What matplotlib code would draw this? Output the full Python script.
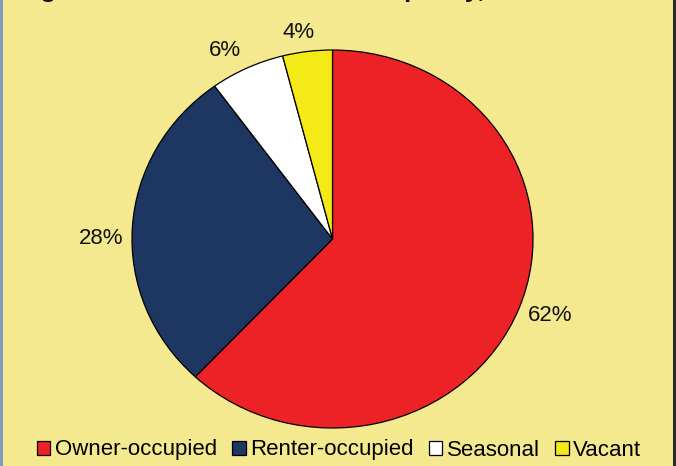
import matplotlib
matplotlib.use("Agg")
import matplotlib.pyplot as plt
from matplotlib.patches import Rectangle
from matplotlib.transforms import offset_copy

plt.rcParams['font.family'] = ['Liberation Sans', 'DejaVu Sans']

# data
categories = ["Owner-occupied", "Renter-occupied", "Seasonal", "Vacant"]
shares = [62, 28, 6, 4]
colors = ["#ED2226", "#1D3662", "#FFFFFF", "#F3EA17"]
title = "Figure 3: Residential Unit Occupancy, 2000"

bg = "#F5E98F"
W, H = 676, 466

fig = plt.figure(figsize=(W / 100, H / 100), dpi=100, facecolor=bg)

# pie area (slightly wider than tall, as in the source image)
ax = fig.add_axes([132 / W, 38 / H, 401 / W, 378 / H])
ax.set_facecolor(bg)
wedges, texts, autotexts = ax.pie(
    shares, colors=colors, startangle=90, counterclock=False,
    autopct='%.0f%%', pctdistance=1.15,
    wedgeprops=dict(edgecolor="black", linewidth=0.9),
    textprops=dict(fontsize=16, color="#111111"))
ax.set_aspect('auto')
ax.set_xlim(-1, 1)
ax.set_ylim(-1, 1)
ax.axis('off')

# nudge labels the way the spreadsheet's best-fit placed them (pixels)
nudges = [(3, 4), (-1, -13), (-9, -8), (-5, -9)]
for t, (dx, dy) in zip(autotexts, nudges):
    t.set_transform(offset_copy(t.get_transform(), fig=fig, x=dx, y=dy,
                                units='dots'))

# title, mostly cut off by the top edge
fig.text(17 / W, 1 + 2.5 / H, title, fontsize=18.7, fontweight='bold',
         ha='left', va='baseline', color="#111111")

fig.legend(wedges, categories, loc='center', bbox_to_anchor=(339 / W, 16 / H),
           ncol=4, frameon=False, fontsize=16, handlelength=0.6,
           handleheight=0.6, handletextpad=0.2, columnspacing=0.7,
           borderaxespad=0, borderpad=0)

# frame lines at the left and right edges
fig.add_artist(Rectangle((0, 0), 2.5 / W, 1, transform=fig.transFigure,
                         facecolor="#7F9CC0", edgecolor="none"))
fig.add_artist(Rectangle((1 - 3 / W, 0), 3 / W, 1, transform=fig.transFigure,
                         facecolor="#2B2B2B", edgecolor="none"))

fig.savefig("out.png", dpi=100, facecolor=bg)
